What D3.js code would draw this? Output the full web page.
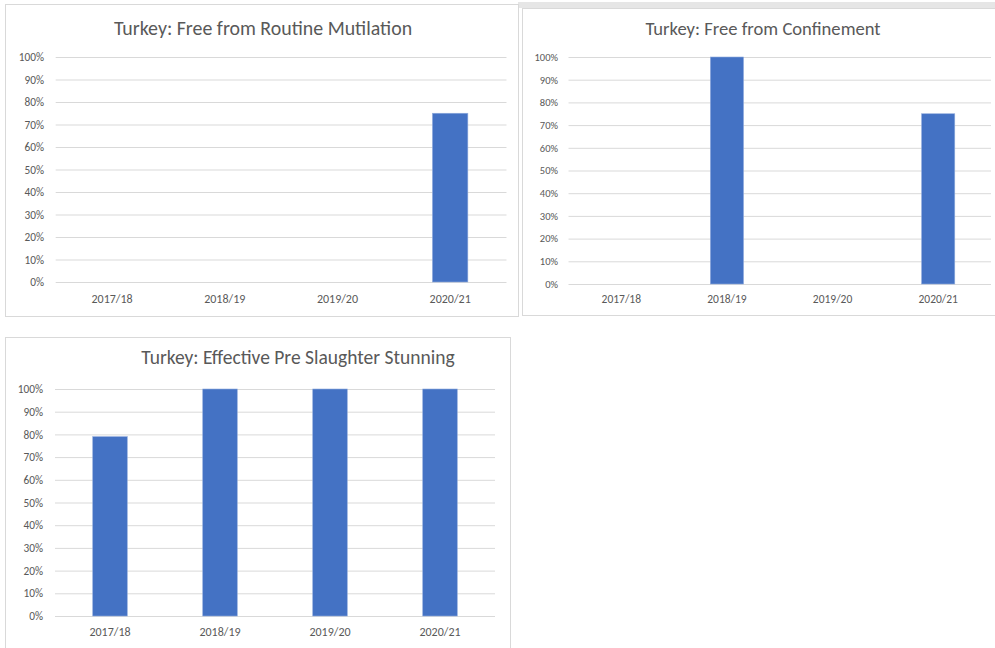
<!DOCTYPE html>
<html>
<head>
<meta charset="utf-8">
<script src="https://cdn.jsdelivr.net/npm/d3@7"></script>
<style>
  body { margin: 0; background: #fff; }
  svg { display: block; font-family: Carlito, Calibri, Lato, sans-serif; }
</style>
</head>
<body>
<svg id="canvas" width="995" height="648"></svg>
<script>
// data
let years = ['2017/18', '2018/19', '2019/20', '2020/21']
let mutilation = [null, null, null, 0.75]
let confinement = [null, 1.0, null, 0.75]
let stunning = [0.79, 1.0, 1.0, 1.0]
let yTicks = [0, 0.1, 0.2, 0.3, 0.4, 0.5, 0.6, 0.7, 0.8, 0.9, 1.0]

let svg = d3.select('#canvas')
let textColor = '#595959'
let fontFamily = 'Carlito, Calibri, Lato, sans-serif'

let charts = [
    {
        title: 'Turkey: Free from Routine Mutilation', values: mutilation,
        box: [5, 4, 513, 312], plot: [55.7, 506.5, 57, 282],
        titleX: 263, titleY: 34.5, titleSize: 19.9,
        yLabelX: 44, xLabelY: 299, ySize: 11.3, xSize: 12
    },
    {
        title: 'Turkey: Free from Confinement', values: confinement,
        box: [522, 8, 480, 307], plot: [568.5, 991, 57, 284],
        titleX: 763, titleY: 35, titleSize: 18.6,
        yLabelX: 558, xLabelY: 299, ySize: 10.5, xSize: 11.5
    },
    {
        title: 'Turkey: Effective Pre Slaughter Stunning', values: stunning,
        box: [5, 337, 505, 320], plot: [55, 495, 389, 616],
        titleX: 298, titleY: 364, titleSize: 19.5,
        yLabelX: 43, xLabelY: 632, ySize: 11.3, xSize: 12
    }
]

// grey strip above the second chart (screenshot edge)
svg.append('rect')
    .attr('x', 518).attr('y', 2)
    .attr('width', 477).attr('height', 6)
    .attr('fill', '#e6e6e6')

let drawChart = (c) => {
    let g = svg.append('g')

    g.append('rect')
        .attr('x', c.box[0] + 0.5).attr('y', c.box[1] + 0.5)
        .attr('width', c.box[2]).attr('height', c.box[3])
        .attr('fill', '#fff')
        .attr('stroke', '#d9d9d9')

    let x = d3.scaleBand()
        .domain(years)
        .range([c.plot[0], c.plot[1]])
        .paddingInner(0.686)
        .paddingOuter(0.343)

    let y = d3.scaleLinear()
        .domain([0, 1])
        .range([c.plot[3], c.plot[2]])

    let yAxis = d3.axisLeft(y)
        .tickValues(yTicks)
        .tickFormat(d3.format('.0%'))
        .tickSize(-(c.plot[1] - c.plot[0]))
        .tickPadding(c.plot[0] - c.yLabelX)

    let ya = g.append('g')
        .attr('transform', 'translate(' + c.plot[0] + ',0)')
        .call(yAxis)
    ya.select('.domain').remove()
    ya.selectAll('line').attr('stroke', '#d9d9d9')
    ya.selectAll('text')
        .attr('fill', textColor)
        .style('font-size', c.ySize + 'px')
        .style('font-family', fontFamily)

    let xAxis = d3.axisBottom(x).tickSize(0)
    let xa = g.append('g')
        .attr('transform', 'translate(0,' + c.xLabelY + ')')
        .call(xAxis)
    xa.select('.domain').remove()
    xa.selectAll('text')
        .attr('y', 0)
        .attr('dy', '0.35em')
        .attr('fill', textColor)
        .style('font-size', c.xSize + 'px')
        .style('font-family', fontFamily)

    let bars = years.map((yr, i) => ({year: yr, value: c.values[i]}))
        .filter((d) => d.value !== null)

    g.selectAll('.bar')
        .data(bars)
        .enter()
        .append('rect')
        .attr('class', 'bar')
        .attr('x', (d) => x(d.year))
        .attr('y', (d) => y(d.value))
        .attr('width', x.bandwidth())
        .attr('height', (d) => y(0) - y(d.value))
        .attr('fill', '#4472c4')
        .attr('stroke', '#8faadc')
        .attr('stroke-width', 0.6)

    g.append('text')
        .attr('x', c.titleX)
        .attr('y', c.titleY)
        .attr('text-anchor', 'middle')
        .attr('fill', textColor)
        .style('font-size', c.titleSize + 'px')
        .text(c.title)
}

charts.forEach(drawChart)
</script>
</body>
</html>
